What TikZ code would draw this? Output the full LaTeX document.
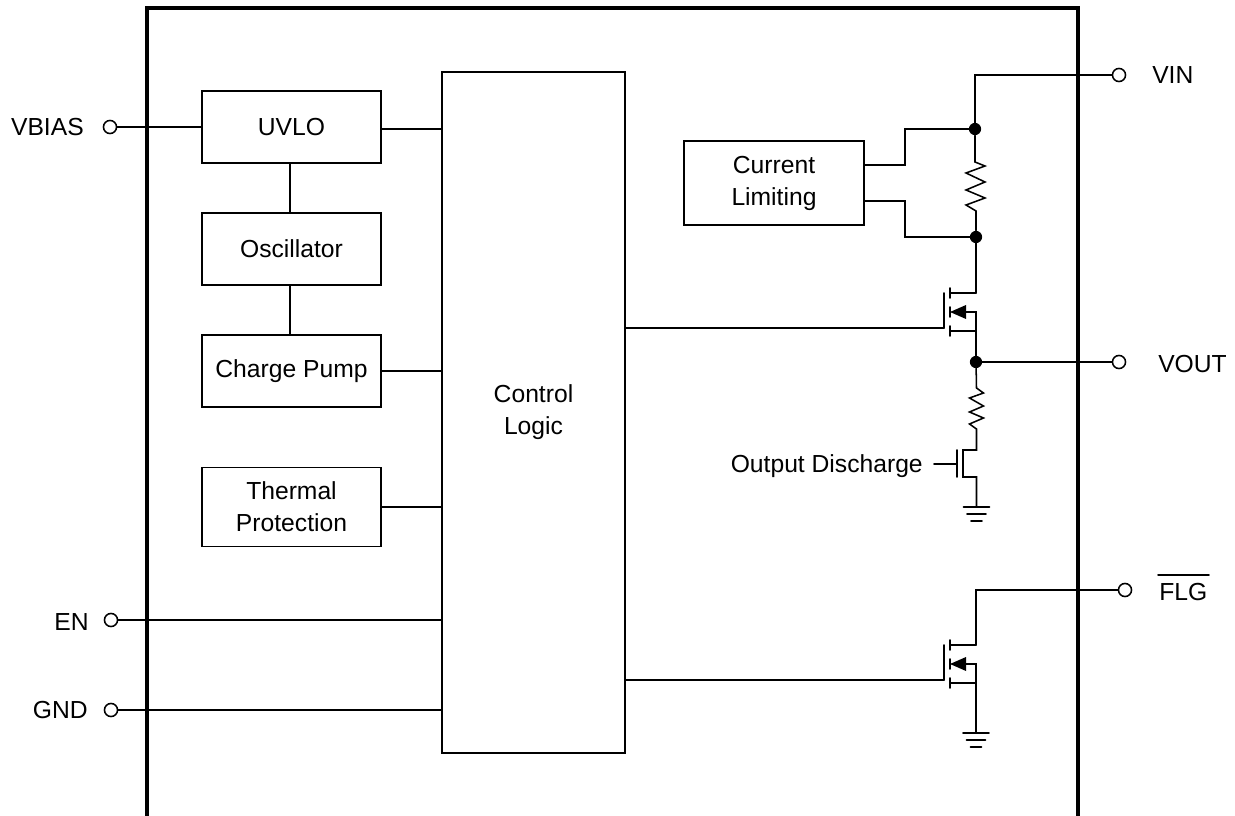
\documentclass[tikz,border=0pt]{standalone}
\usepackage{fontspec}
\setmainfont{Liberation Sans}
\tikzset{
  wire/.style={line width=1.15pt,line cap=round,line join=miter},
  frame/.style={line width=2.4pt},
  blockbox/.style={draw,line width=1.15pt,inner sep=0pt,align=center,font=\fontsize{18.5}{24}\selectfont},
  pin/.style={circle,draw,fill=white,line width=1.15pt,minimum size=9.8pt,inner sep=0pt},
  dot/.style={circle,fill=black,minimum size=9.2pt,inner sep=0pt},
  lbl/.style={inner sep=0pt,font=\fontsize{18.5}{24}\selectfont},
  pics/fet/.style={code={
    \coordinate (-gate) at (-32,16);
    \coordinate (-drain) at (0,-19);
    \coordinate (-source) at (0,19);
    \draw[wire] (-32,16) -- (-32,-19);
    \draw[wire] (-26,-24) -- (-26,-14);
    \draw[wire] (-26,-5) -- (-26,5);
    \draw[wire] (-26,14) -- (-26,24);
    \draw[wire] (-26,-19) -- (0,-19);
    \draw[wire] (-26,19) -- (0,19);
    \draw[wire] (-10,0) -- (0,0) -- (0,19);
    \fill (-26,0) -- (-10,-7) -- (-10,7) -- cycle;
  }},
  pics/gnd/.style={code={
    \draw[wire] (-13,0) -- (13,0);
    \draw[wire] (-9.5,7) -- (9.5,7);
    \draw[wire] (-5.5,14) -- (5.5,14);
  }}
}
\begin{document}
\begin{tikzpicture}[x=0.75pt,y=-0.75pt]
\useasboundingbox (0,0) rectangle (1235,816);
% chip outline
\coordinate (fbl) at (147,830);
\coordinate (ftl) at (147,8);
\coordinate (ftr) at (1078,8);
\coordinate (fbr) at (1078,830);
\draw[frame] (fbl) -- (ftl) -- (ftr) -- (fbr);
% blocks
\node[blockbox,minimum width=134.25pt,minimum height=54pt] (uvlo) at (291.5,127) {UVLO};
\node[blockbox,minimum width=134.25pt,minimum height=54pt] (osc) at (291.5,249) {Oscillator};
\node[blockbox,minimum width=134.25pt,minimum height=54pt] (cp) at (291.5,371) {Charge Pump};
\node[blockbox,minimum width=134.25pt,minimum height=59.25pt] (th) at (291.5,507) {Thermal\\Protection};
\node[blockbox,minimum width=137.25pt,minimum height=510.75pt] (cl) at (533.5,412.5) {Control\\Logic};
\node[blockbox,minimum width=135pt,minimum height=63pt] (cur) at (774,183) {Current\\Limiting};
% pins
\node[pin] (pvb) at (110,127) {};
\node[pin] (pen) at (111,620) {};
\node[pin] (pgnd) at (111,710) {};
\node[pin] (pvin) at (1119,75) {};
\node[pin] (pvout) at (1119,362) {};
\node[pin] (pflg) at (1125,590) {};
% labels
\node[lbl,anchor=east] (lvb) at (84,127) {VBIAS};
\node[lbl,anchor=east] (len) at (89,622) {EN};
\node[lbl,anchor=east] (lgnd) at (88,710) {GND};
\node[lbl,anchor=west] (lvin) at (1152,75) {VIN};
\node[lbl,anchor=west] (lvout) at (1158,364) {VOUT};
\node[lbl,anchor=west] (lflg) at (1159,592) {FLG};
\coordinate (ola) at (1158,575);
\coordinate (olb) at (1209,575);
\draw[wire] (ola) -- (olb);
\node[lbl,anchor=east] (lod) at (923,466) {Output Discharge};
% left wiring
\draw[wire] (pvb) -- (uvlo.west);
\draw[wire] ([xshift=-1.1pt]uvlo.south) -- ([xshift=-1.1pt]osc.north);
\draw[wire] ([xshift=-1.1pt]osc.south) -- ([xshift=-1.1pt]cp.north);
\draw[wire] ([yshift=-1.5pt]uvlo.east) -- ([yshift=-1.5pt]uvlo.east -| cl.west);
\draw[wire] (cp.east) -- (cp.east -| cl.west);
\draw[wire] (th.east) -- (th.east -| cl.west);
\draw[wire] (pen) -- (pen -| cl.west);
\draw[wire] (pgnd) -- (pgnd -| cl.west);
% junctions
\node[dot] (j1) at (975,129) {};
\node[dot] (j2) at (976,237) {};
\node[dot] (j3) at (976,362) {};
% VIN + sense resistor
\coordinate (vtop) at (975,75);
\draw[wire] (pvin) -- (vtop) -- (j1);
\coordinate (r1a) at (975,162);
\coordinate (r1b) at (976,211);
\draw[wire] (j1) -- (r1a) -- (985,166) -- (966,173) -- (985,182) -- (966,190) -- (985,198) -- (966,205) -- (r1b) -- (j2);
% current limiting
\coordinate (c1o) at (864,165);
\coordinate (c1k) at (905,165);
\coordinate (c2o) at (864,201);
\coordinate (c2k) at (905,201);
\draw[wire] (c1o) -- (c1k) -- (c1k |- j1) -- (j1);
\draw[wire] (c2o) -- (c2k) -- (c2k |- j2) -- (j2);
% pass FET
\pic (m1) at (976,312) {fet};
\draw[wire] (j2) -- (m1-drain);
\draw[wire] (m1-source) -- (j3);
\draw[wire] (m1-gate) -- (m1-gate -| cl.east);
\draw[wire] (j3) -- (pvout);
% discharge
\coordinate (r2a) at (976.5,388);
\coordinate (r2b) at (976.5,429);
\coordinate (dd) at (976.5,450);
\coordinate (ds) at (976.5,477);
\coordinate (dgnd) at (976.5,507);
\draw[wire] (j3) -- (r2a) -- (983.5,393) -- (969.5,398) -- (983.5,406) -- (969.5,412) -- (983.5,418) -- (969.5,424) -- (r2b) -- (dd) -- (963,450) -- (963,477) -- (ds) -- (dgnd);
\draw[wire] (957,450) -- (957,477);
\draw[wire] (934,464) -- (957,464);
\pic at (dgnd) {gnd};
% flag FET
\pic (m2) at (976,664) {fet};
\coordinate (ftop) at (976,590);
\coordinate (fgnd) at (976,733);
\draw[wire] (pflg) -- (ftop) -- (m2-drain);
\draw[wire] (m2-gate) -- (m2-gate -| cl.east);
\draw[wire] (m2-source) -- (fgnd);
\pic at (fgnd) {gnd};
\end{tikzpicture}
\end{document}
